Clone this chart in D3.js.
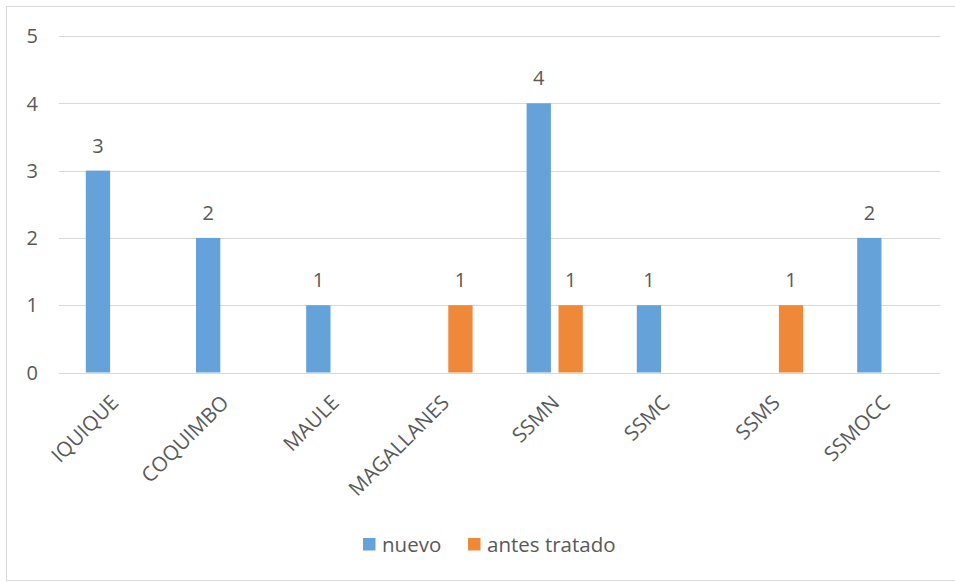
<!DOCTYPE html>
<html>
<head>
<meta charset="utf-8">
<script src="https://cdn.jsdelivr.net/npm/d3@7"></script>
<style>
  html, body { margin: 0; padding: 0; background: #fff; }
  svg { display: block; }
  text { font-family: "Open Sans", "Noto Sans", sans-serif; fill: #595959; }
</style>
</head>
<body>
<svg id="chart" width="955" height="582"></svg>
<script>
const categories = ["IQUIQUE", "COQUIMBO", "MAULE", "MAGALLANES", "SSMN", "SSMC", "SSMS", "SSMOCC"];
const seriesNames = ["nuevo", "antes tratado"];
const nuevo = [3, 2, 1, null, 4, 1, null, 2];
const antesTratado = [null, null, null, 1, 1, null, 1, null];
const yTicks = [0, 1, 2, 3, 4, 5];
const colors = ["#64a2d9", "#ef8839"];

const seriesValues = [nuevo, antesTratado];
const svg = d3.select("#chart");

// frame
svg.append("rect").attr("x", 6.5).attr("y", 6.5).attr("width", 960).attr("height", 574)
  .attr("fill", "none").attr("stroke", "#d9d9d9").attr("stroke-width", 1);

const x0 = 58.8, x1 = 940.4, yTop = 36, yBot = 372.5;
const x = d3.scaleBand().domain(categories).range([x0, x1]).padding(0);
const y = d3.scaleLinear().domain([0, 5]).range([yBot, yTop]);
const groupW = x.bandwidth() * 0.51;
const inner = d3.scaleBand().domain(seriesNames).range([-groupW / 2, groupW / 2]).paddingInner(0.238).paddingOuter(0);

// gridlines
svg.append("g").selectAll("line").data(yTicks).join("line")
  .attr("x1", x0).attr("x2", x1)
  .attr("y1", d => Math.round(y(d)) + 0.5).attr("y2", d => Math.round(y(d)) + 0.5)
  .attr("stroke", "#d9d9d9").attr("stroke-width", 1);

// y tick labels
svg.append("g").selectAll("text").data(yTicks).join("text")
  .attr("x", 38).attr("y", d => y(d)).attr("dy", "0.36em")
  .attr("text-anchor", "end").attr("font-size", 20)
  .text(d => d);

// bars
const barData = [];
seriesNames.forEach((s, si) => {
  categories.forEach((c, ci) => {
    const v = seriesValues[si][ci];
    if (v != null) barData.push({ s, si, c, v });
  });
});
const bars = svg.append("g");
bars.selectAll("rect").data(barData).join("rect")
  .attr("x", d => x(d.c) + x.bandwidth() / 2 + inner(d.s))
  .attr("width", inner.bandwidth())
  .attr("y", d => y(d.v))
  .attr("height", d => y(0) - y(d.v))
  .attr("fill", d => colors[d.si]);

// value labels
bars.selectAll("text").data(barData).join("text")
  .attr("x", d => x(d.c) + x.bandwidth() / 2 + inner(d.s) + inner.bandwidth() / 2)
  .attr("y", d => y(d.v) - 18)
  .attr("text-anchor", "middle").attr("font-size", 20)
  .text(d => d.v);

// category labels
svg.append("g").selectAll("text").data(categories).join("text")
  .attr("transform", d => `translate(${x(d) + x.bandwidth() / 2 + 6},${404}) rotate(-45)`)
  .attr("text-anchor", "end").attr("font-size", 20.5)
  .text(d => d);

// legend
const legendItems = [{ name: seriesNames[0], x: 363 }, { name: seriesNames[1], x: 468 }];
const lg = svg.append("g");
legendItems.forEach((it, i) => {
  lg.append("rect").attr("x", it.x).attr("y", 538).attr("width", 12.5).attr("height", 12.5).attr("fill", colors[i]);
  lg.append("text").attr("x", it.x + 19).attr("y", 551.5).attr("font-size", 20.5).text(it.name);
});
</script>
</body>
</html>
